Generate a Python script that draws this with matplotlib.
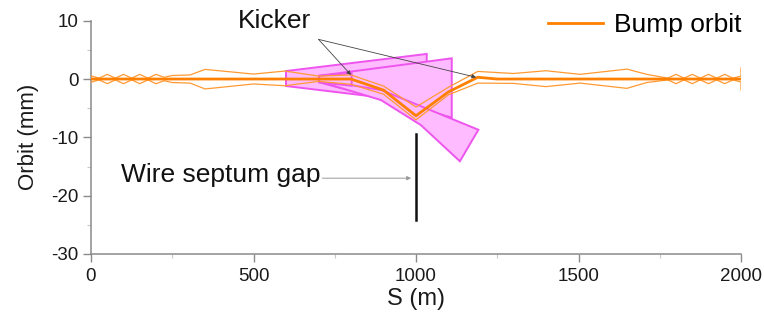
import matplotlib
matplotlib.use("Agg")
import matplotlib.pyplot as plt
from matplotlib.patches import Polygon
from matplotlib.ticker import MultipleLocator

plt.rcParams['font.family'] = ['Liberation Sans', 'DejaVu Sans']
plt.rcParams['axes.unicode_minus'] = False

# ---- data ----
orbit_s = [0, 800, 900, 1000, 1100, 1190, 1250, 2000]
orbit_y = [0, 0, -1.9, -6.3, -2.2, 0.3, 0, 0]

env_s = [0, 25, 50, 75, 100, 125, 150, 175, 200, 225, 250, 305, 351, 500, 597,
         700, 800, 900, 1000, 1100, 1190, 1300, 1400, 1505, 1649, 1710, 1775,
         1800, 1825, 1850, 1875, 1900, 1925, 1950, 1975, 2000, 2000]
env_upper = [0.55, 0.15, 0.8, 0.15, 0.8, 0.15, 0.8, 0.15, 0.8, 0.3, 0.6, 0.7, 1.65, 0.85, 1.37,
             0.5, 0.7, -1.2, -4.8, -1.4, 1.3, 0.95, 1.42, 0.8, 1.7, 0.8, 0.15,
             0.8, 0.15, 0.8, 0.15, 0.8, 0.15, 0.8, 0.15, 0.5, 1.9]
env_lower = [-0.55, -0.15, -0.8, -0.15, -0.8, -0.15, -0.8, -0.15, -0.8, -0.3, -0.6, -0.7, -1.7, -0.85, -1.15,
             -0.4, -0.9, -2.6, -7.0, -2.7, -0.7, -0.75, -1.3, -0.7, -1.6, -0.6, -0.15,
             -0.8, -0.15, -0.8, -0.15, -0.8, -0.15, -0.8, -0.15, -0.5, -1.9]

kicker_a = [(600, 1.37), (1033, 4.3), (1033, -4.1), (600, -1.2)]
kicker_b = [(702, 0.56), (1110, 3.55), (1110, -6.6), (702, -0.56)]
kicker_c = [(702, -0.15), (894, -1.9), (1192, -8.7), (1135, -14.1), (1015, -7.9), (892, -3.6), (702, -0.4)]
kicker_d = [(702, 0.56), (802, 1.0), (802, -1.15), (702, -0.56)]

kicker_pos = [(800, 0.7), (1185, 0.3)]
kicker_label_xy = (566, 9.95)
kicker_arrow_start = (700, 6.8)

septum_s = 1000
septum_y = [-9.4, -24.2]
septum_label_xy = (705, -16.5)
septum_arrow = [(712, -17.0), (985, -17.0)]

xticks = [0, 500, 1000, 1500, 2000]
yticks = [10, 0, -10, -20, -30]

ORANGE = '#FF8000'
ORANGE_THIN = '#FF9A33'
PINK_FILL = '#FFBBFF'
PINK_EDGE = '#EE55EE'
GRAY = '#8a8a8a'

fig = plt.figure(figsize=(7.64, 3.21), dpi=100)
ax = fig.add_axes([91 / 764, 1 - 254 / 321, 650 / 764, (254 - 20.7) / 321])

for verts in (kicker_a, kicker_b, kicker_c, kicker_d):
    ax.add_patch(Polygon(verts, closed=True, facecolor=PINK_FILL, edgecolor=PINK_EDGE,
                         linewidth=1.4, zorder=2))

ax.plot(env_s, env_upper, color=ORANGE_THIN, lw=0.9, zorder=3)
ax.plot(env_s, env_lower, color=ORANGE_THIN, lw=0.9, zorder=3)
ax.plot(orbit_s, orbit_y, color=ORANGE, lw=2.0, zorder=4, label='Bump orbit')

ax.plot([septum_s, septum_s], septum_y, color='#111111', lw=1.8, zorder=4)

for pt in kicker_pos:
    ax.annotate('', xy=pt, xytext=kicker_arrow_start,
                arrowprops=dict(arrowstyle='-|>', lw=0.6, color='#444444',
                                mutation_scale=6, shrinkA=0, shrinkB=0), zorder=5)
ax.text(kicker_label_xy[0], kicker_label_xy[1], 'Kicker', fontsize=19,
        ha='center', va='center', color='#111111', zorder=6)

ax.annotate('', xy=septum_arrow[1], xytext=septum_arrow[0],
            arrowprops=dict(arrowstyle='-|>', lw=0.7, color='#999999',
                            mutation_scale=6, shrinkA=0, shrinkB=0))
ax.text(septum_label_xy[0], septum_label_xy[1], 'Wire septum gap', fontsize=19,
        ha='right', va='center', color='#111111')

ax.set_xlim(0, 2000)
ax.set_ylim(-30, 10)
ax.set_xticks(xticks)
ax.set_yticks(yticks)
ax.xaxis.set_minor_locator(MultipleLocator(250))
ax.yaxis.set_minor_locator(MultipleLocator(5))

for side in ('top', 'right'):
    ax.spines[side].set_visible(False)
for side in ('left', 'bottom'):
    ax.spines[side].set_color(GRAY)
    ax.spines[side].set_linewidth(1.1)

ax.tick_params(which='major', direction='out', length=6, width=1.0, color=GRAY,
               labelsize=13.5, labelcolor='#1a1a1a')
ax.tick_params(axis='x', which='major', pad=4)
ax.tick_params(axis='y', which='major', pad=3)
ax.tick_params(which='minor', direction='out', length=3, width=0.8, color='#c8c8c8')

ax.set_xlabel('S (m)', fontsize=17, color='#1a1a1a', labelpad=2)
ax.set_ylabel('Orbit (mm)', fontsize=16, color='#1a1a1a', labelpad=9)

ax.legend(loc='center right', bbox_to_anchor=(1.0, 0.98), frameon=False,
          fontsize=19, handlelength=2.1, handletextpad=0.4, borderpad=0,
          borderaxespad=0)

fig.savefig('out.png', dpi=100)
